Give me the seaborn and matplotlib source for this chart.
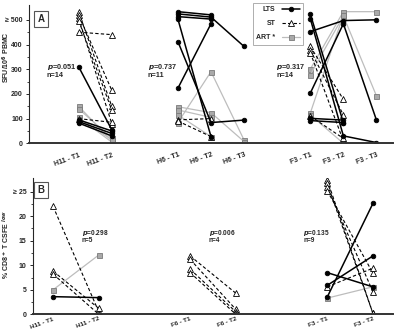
import pandas as pd
import matplotlib
matplotlib.use("Agg")
import matplotlib.pyplot as plt
from matplotlib.lines import Line2D
import seaborn as sns

# ---- panel A: SFU/10^6 PBMC, one row per subject, one value per time point
a_groups = [["H11 - T1", "H11 - T2"],
            ["H6 - T1", "H6 - T2", "H6 - T3"],
            ["F3 - T1", "F3 - T2", "F3 - T3"]]

a_h11_lts = [[310, 55], [95, 50], [88, 40], [82, 30]]
a_h11_st = [[533, 150], [520, 215], [507, 80], [497, 135], [450, 440], [100, 85]]
a_h11_art = [[150, 10], [140, 20], [105, 5], [100, 15]]

a_h6_lts = [[533, 520], [524, 511, 392], [513, 503], [503, 27], [412, 84, 94], [223, 484]]
a_h6_st = [[95, 100], [90, 27]]
a_h6_art = [[84, 290, 13], [148, 124, 7], [135, 105], [115, 27]]

a_f3_lts = [[524, 84], [505, 30, 3], [452, 497, 500], [203, 484, 94], [101, 94], [92, 84]]
a_f3_st = [[392, 178], [378, 115], [367, 10], [110, 20]]
a_f3_art = [[300, 533, 533], [277, 516, 192], [122, 520], [115, 0]]

a_stats = [("0.051", 14), ("0.737", 11), ("0.317", 14)]

# ---- panel B: % CD8+ T CSFE low
b_groups = [["H11 - T1", "H11 - T2"],
            ["F6 - T1", "F6 - T2"],
            ["F3 - T1", "F3 - T2"]]

b_h11_lts = [[3.6, 3.4]]
b_h11_st = [[22.0, 0.5], [8.8, 1.2], [8.2, 0.0]]
b_h11_art = [[5.0, 12.1]]

b_f6_lts = []
b_f6_st = [[11.9, 4.3], [11.2, 1.0], [9.2, 0.5], [8.5, 0.0]]
b_f6_art = []

b_f3_lts = [[3.5, 22.6], [5.9, 11.9], [8.5, 5.6]]
b_f3_st = [[27.4, 0.2], [26.7, 0.2], [26.0, 4.6], [25.2, 8.4], [5.6, 9.4]]
b_f3_art = [[3.3, 5.6]]

b_stats = [("0.298", 5), ("0.006", 4), ("0.135", 9)]


def to_long(groups, series):
    # groups sit side by side with one empty slot between them
    rows = []
    start = 0
    sid = 0
    for gi, labels in enumerate(groups):
        for status, subjects in series[gi].items():
            for subj in subjects:
                sid += 1
                for k, v in enumerate(subj):
                    rows.append({"pos": start + k, "value": v, "status": status, "sid": sid})
        start += len(labels) + 1
    return pd.DataFrame(rows)


def tick_positions(groups):
    pos, labels, start = [], [], 0
    for g in groups:
        pos += [start + k for k in range(len(g))]
        labels += g
        start += len(g) + 1
    return pos, labels


df_a = to_long(a_groups, [
    {"ART *": a_h11_art, "ST": a_h11_st, "LTS": a_h11_lts},
    {"ART *": a_h6_art, "ST": a_h6_st, "LTS": a_h6_lts},
    {"ART *": a_f3_art, "ST": a_f3_st, "LTS": a_f3_lts},
])
df_b = to_long(b_groups, [
    {"ART *": b_h11_art, "ST": b_h11_st, "LTS": b_h11_lts},
    {"ART *": b_f6_art, "ST": b_f6_st, "LTS": b_f6_lts},
    {"ART *": b_f3_art, "ST": b_f3_st, "LTS": b_f3_lts},
])

styles = {
    "ART *": dict(color="#bdbdbd", linestyle="-", linewidth=0.9, marker="s",
                  markerfacecolor="#a9a9a9", markeredgecolor="#7a7a7a", markersize=3.6),
    "ST": dict(color="black", linestyle=(0, (3, 2)), linewidth=0.8, marker="^",
               markerfacecolor="white", markeredgecolor="black", markersize=3.7),
    "LTS": dict(color="black", linestyle="-", linewidth=1.1, marker="o",
                markerfacecolor="black", markeredgecolor="black", markersize=3.3),
}

sns.set_style("ticks")
plt.rcParams["font.family"] = ["Liberation Sans", "DejaVu Sans"]
plt.rcParams["font.weight"] = "bold"

fig = plt.figure(figsize=(3.96, 3.31), dpi=100)
ax_a = fig.add_axes([29 / 396, 1 - 143.3 / 331, 364 / 396, 138.3 / 331])
ax_b = fig.add_axes([33 / 396, 1 - 314.3 / 331, 360 / 396, 136.3 / 331])


def draw(ax, df):
    for status in ["ART *", "ST", "LTS"]:
        sub = df[df["status"] == status]
        if sub.empty:
            continue
        sns.lineplot(data=sub, x="pos", y="value", units="sid", estimator=None,
                     sort=False, legend=False, ax=ax, markeredgewidth=0.6,
                     **styles[status])


draw(ax_a, df_a)
draw(ax_b, df_b)

for ax, groups, pad, fs in [(ax_a, a_groups, 6, 5), (ax_b, b_groups, 1.5, 4.6)]:
    pos, labels = tick_positions(groups)
    ax.set_xticks(pos)
    ax.set_xticklabels(labels, rotation=20, fontsize=fs, fontweight="bold",
                       ha="right", va="top", rotation_mode="anchor")
    ax.tick_params(axis="x", length=0, pad=pad)
    ax.tick_params(axis="y", labelsize=5, length=2.5, width=0.7, pad=2)
    ax.tick_params(axis="y", which="minor", length=1.5, width=0.6)
    ax.set_xlabel("")
    sns.despine(ax=ax)
    ax.spines["left"].set_linewidth(0.8)
    ax.spines["bottom"].set_linewidth(1.4)
    ax.spines["bottom"].set_color("#333333")

ax_a.set_xlim(-1.5, 9.5)
ax_a.set_ylim(0, 560)
ax_a.set_yticks([0, 100, 200, 300, 400, 500])
ax_a.set_yticks([50, 150, 250, 350, 450], minor=True)
ax_a.set_yticklabels(["0", "100", "200", "300", "400", "\u2265 500"])
ax_a.set_ylabel("SFU/10$^6$ PBMC", fontsize=5, fontweight="bold")
ax_a.yaxis.set_label_coords(-0.047, 0.62)

ax_b.set_xlim(-0.44, 7.44)
ax_b.set_ylim(0, 27.8)
ax_b.set_yticks([0, 5, 10, 15, 20, 25])
ax_b.set_yticks([2.5, 7.5, 12.5, 17.5, 22.5], minor=True)
ax_b.set_yticklabels(["0", "5", "10", "15", "20", "\u2265 25"])
ax_b.set_ylabel("% CD8$^+$ T CSFE $^{low}$", fontsize=5, fontweight="bold")
ax_b.yaxis.set_label_coords(-0.058, 0.51)

# p-values and n per group
a_text_x = [-0.97, 2.09, 5.97]
for x, (p, n) in zip(a_text_x, a_stats):
    ax_a.text(x, 309, "$p$=" + p, fontsize=5.2, fontweight="bold", va="center")
    ax_a.text(x, 273, "n=%d" % n, fontsize=5.2, fontweight="bold", va="center")
b_text_x = [0.63, 3.41, 5.47]
for x, (p, n) in zip(b_text_x, b_stats):
    ax_b.text(x, 16.6, "$p$=" + p, fontsize=4.7, fontweight="bold", va="center")
    ax_b.text(x, 15.0, "n=%d" % n, fontsize=4.7, fontweight="bold", va="center")

# panel letters
for ax, letter, (x, y) in [(ax_a, "A", (0.033, 0.899)), (ax_b, "B", (0.022, 0.912))]:
    ax.text(x, y, letter, transform=ax.transAxes, fontsize=7, fontweight="bold",
            ha="center", va="center",
            bbox=dict(boxstyle="square,pad=0.35", facecolor="white",
                      edgecolor="#555555", linewidth=0.8))

handles = [Line2D([], [], **styles[s], markeredgewidth=0.6)
           for s in ["LTS", "ST", "ART *"]]
leg = fig.legend(handles, ["LTS", "ST", "ART *"], loc="upper left",
                 bbox_to_anchor=(253 / 396, 1 - 3 / 331), markerfirst=False,
                 fontsize=5, frameon=True, fancybox=False, handlelength=2.6,
                 borderpad=0.5, labelspacing=1.0, handletextpad=0.9,
                 borderaxespad=0)
leg.get_frame().set_edgecolor("#999999")
leg.get_frame().set_linewidth(0.7)
for t in leg.get_texts():
    t.set_fontweight("bold")

fig.savefig("out.png", dpi=100)
